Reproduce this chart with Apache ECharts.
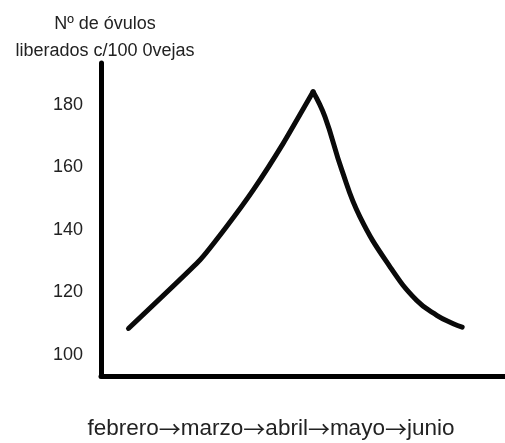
<!DOCTYPE html>
<html>
<head>
<meta charset="utf-8">
<script src="https://cdn.jsdelivr.net/npm/echarts@6/dist/echarts.min.js"></script>
<style>
  html, body { margin: 0; padding: 0; background: #fff; }
  #chart { width: 505px; height: 443px; }
</style>
</head>
<body>
<div id="chart"></div>
<script>
// curve: x is an arbitrary 0-100 time scale (febrero -> junio)
// rising part up to the peak, then the falling part from the peak
const riseX = [6.8, 24.5, 31.1, 37.7, 45.1, 52.5];
const riseY = [108.5, 130.4, 141.1, 152.8, 167.7, 184.2];
const fallX = [52.5, 55.4, 59.6, 64.1, 71.5, 78.1, 83.1, 87.2, 89.4];
const fallY = [184.2, 176.3, 159.2, 144.2, 128.3, 117.5, 112.7, 110.0, 108.9];
const yTicks = [100, 120, 140, 160, 180];
const yTitle = ['Nº de óvulos', 'liberados c/100 0vejas'];
const months = ['febrero', 'marzo', 'abril', 'mayo', 'junio'];

const rise = riseX.map((x, i) => [x, riseY[i]]);
const fall = fallX.map((x, i) => [x, fallY[i]]);
// arrows drawn with a CJK font so they come out full width like the original
const xTitle = months.join('{arr|→}');

const lineStyle = { color: '#0a0a0a', width: 5, cap: 'round', join: 'round' };

const chart = echarts.init(document.getElementById('chart'));
chart.setOption({
    animation: false,
    title: [
        {
            text: yTitle[0],
            left: 100, top: 10, textAlign: 'center',
            textStyle: { fontFamily: 'Liberation Sans', fontSize: 18, fontWeight: 'normal', color: '#222' }
        },
        {
            text: yTitle[1],
            left: 100, top: 37, textAlign: 'center',
            textStyle: { fontFamily: 'Liberation Sans', fontSize: 18, fontWeight: 'normal', color: '#222' }
        },
        {
            text: xTitle,
            left: 266, top: 412, textAlign: 'center',
            textStyle: {
                fontFamily: 'Liberation Sans', fontSize: 22.5, fontWeight: 'normal', color: '#222',
                rich: {
                    arr: { fontFamily: 'Noto Sans CJK JP', fontSize: 22, color: '#222' }
                }
            }
        }
    ],
    grid: { left: 101, right: 0, top: 63, bottom: 67, containLabel: false },
    xAxis: {
        type: 'value',
        min: 0, max: 100,
        axisLine: { show: true, lineStyle: { color: '#000', width: 5 } },
        axisTick: { show: false },
        axisLabel: { show: false },
        splitLine: { show: false }
    },
    yAxis: {
        type: 'value',
        min: 93.3, max: 193.4,
        axisLine: { show: true, lineStyle: { color: '#000', width: 5 } },
        axisTick: { show: false },
        splitLine: { show: false },
        axisLabel: {
            customValues: yTicks,
            margin: 18,
            fontFamily: 'Liberation Sans',
            fontSize: 18,
            color: '#222'
        }
    },
    series: [
        { type: 'line', data: rise, symbol: 'none', smooth: 0.15, lineStyle: lineStyle },
        { type: 'line', data: fall, symbol: 'none', smooth: 0.45, lineStyle: lineStyle }
    ]
});
</script>
</body>
</html>
